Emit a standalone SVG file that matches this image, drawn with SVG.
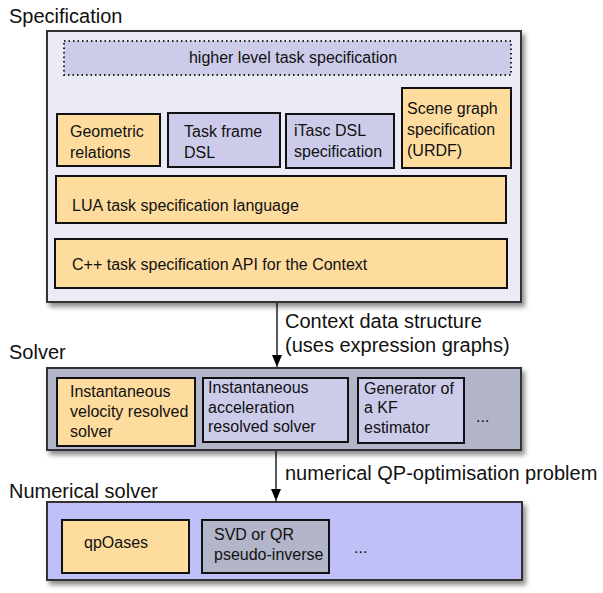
<svg xmlns="http://www.w3.org/2000/svg" width="603" height="593" viewBox="0 0 603 593">
<defs>
<filter id="sh" x="-5%" y="-5%" width="112%" height="125%">
<feDropShadow dx="3" dy="4" stdDeviation="2.5" flood-color="#000" flood-opacity="0.45"/>
</filter>
<marker id="ah" viewBox="0 0 10 12" refX="12" refY="6" markerWidth="10" markerHeight="12" markerUnits="userSpaceOnUse" orient="auto">
<path d="M0,1 L12,6 L0,11 z" fill="#000"/>
</marker>
</defs>
<style>
text{font-family:"Liberation Sans",Arial,sans-serif;font-size:16px;fill:#111}
.t{font-size:20px}
.outer{stroke:#333;stroke-width:2}
.box{stroke:#111;stroke-width:2}
.or{fill:#fedc9e}
.lv{fill:#ccccea}
.gr{fill:#b3b5c9}
.conn{stroke:#000;stroke-width:1.3;fill:none}
</style>
<rect width="603" height="593" fill="#fff"/>
<g id="spec">
<text class="t" x="9" y="23">Specification</text>
<rect class="outer" x="47" y="31" width="474" height="271" fill="#ebebf5" filter="url(#sh)"/>
</g>
<g id="higher">
<rect x="64" y="41" width="447" height="34" class="lv" stroke="#222" stroke-width="2" stroke-dasharray="1.5,3"/>
<text x="293" y="63" text-anchor="middle">higher level task specification</text>
</g>
<g id="geom">
<rect class="box or" x="57" y="114" width="103" height="52"/>
<text x="70" y="137">Geometric</text><text x="70" y="158">relations</text>
</g>
<g id="taskframe">
<rect class="box lv" x="168" y="113" width="112" height="54"/>
<text x="184" y="137">Task frame</text><text x="184" y="158">DSL</text>
</g>
<g id="itasc">
<rect class="box lv" x="286" y="114" width="108" height="54"/>
<text x="294" y="136">iTasc DSL</text><text x="294" y="157">specification</text>
</g>
<g id="scene">
<rect class="box or" x="402" y="88" width="109" height="80"/>
<text x="407" y="114">Scene graph</text><text x="407" y="135">specification</text><text x="407" y="156">(URDF)</text>
</g>
<g id="lua">
<rect class="box or" x="56" y="176" width="450" height="47"/>
<text x="72" y="211">LUA task specification language</text>
</g>
<g id="cpp">
<rect class="box or" x="55" y="239" width="452" height="49"/>
<text x="72" y="270">C++ task specification API for the Context</text>
</g>
<g id="solver">
<text class="t" x="9" y="359">Solver</text>
<rect class="outer gr" x="47" y="368" width="474" height="82" filter="url(#sh)"/>
</g>
<g id="vel">
<rect class="box or" x="57" y="378" width="138" height="68"/>
<text x="70" y="397">Instantaneous</text><text x="70" y="417">velocity resolved</text><text x="70" y="437">solver</text>
</g>
<g id="acc">
<rect class="box lv" x="203" y="378" width="145" height="64"/>
<text x="208" y="393">Instantaneous</text><text x="208" y="413">acceleration</text><text x="208" y="432">resolved solver</text>
</g>
<g id="kf">
<rect class="box lv" x="358" y="378" width="106" height="65"/>
<text x="364" y="394">Generator of</text><text x="364" y="413">a KF</text><text x="364" y="433">estimator</text>
</g>
<g id="soldots"><text x="476" y="422">...</text></g>
<g id="numsolver">
<text class="t" x="9" y="498">Numerical solver</text>
<rect class="outer" x="47" y="502" width="475" height="78" fill="#c0c0f8" filter="url(#sh)"/>
</g>
<g id="qpoases">
<rect class="box or" x="62" y="520" width="127" height="53"/>
<text x="84" y="548">qpOases</text>
</g>
<g id="svd">
<rect class="box gr" x="202" y="520" width="127" height="53"/>
<text x="214" y="540">SVD or QR</text><text x="214" y="560">pseudo-inverse</text>
</g>
<g id="numdots"><text x="354" y="553">...</text></g>
<g id="connectors">
<line class="conn" x1="277" y1="303" x2="277" y2="367" marker-end="url(#ah)"/>
<text class="t" x="285" y="328">Context data structure</text>
<text class="t" x="285" y="352">(uses expression graphs)</text>
<line class="conn" x1="276" y1="451" x2="276" y2="501" marker-end="url(#ah)"/>
<text class="t" x="285" y="480">numerical QP-optimisation problem</text>
</g>
</svg>
